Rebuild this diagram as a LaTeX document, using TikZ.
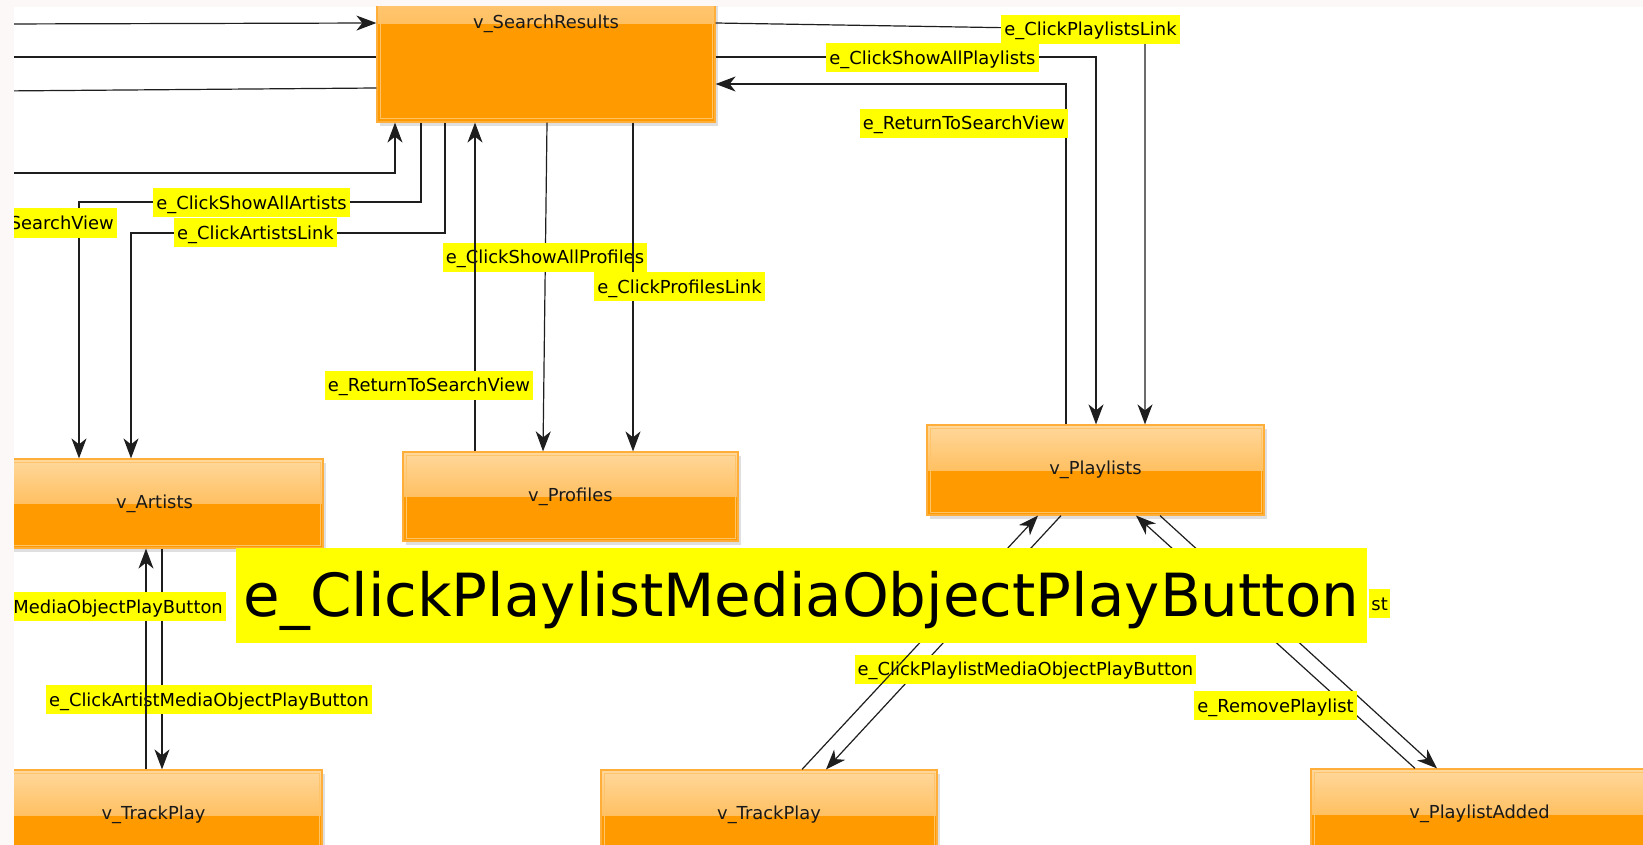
\documentclass[tikz,border=0pt]{standalone}
\usepackage{fontspec}
\setmainfont{DejaVu Sans}
\usetikzlibrary{arrows.meta,shadows}
\definecolor{orangeMain}{HTML}{FF9A00}
\definecolor{glossTop}{HTML}{FFD89C}
\definecolor{glossMid}{HTML}{FFA828}
\definecolor{boxBorder}{HTML}{FFAE3A}
\definecolor{innerLine}{HTML}{FFC46A}
\definecolor{pageBg}{HTML}{FCF8F8}
\definecolor{lbl}{HTML}{FFFF00}
\definecolor{edgeCol}{HTML}{1E1E1E}
\begin{document}
\begin{tikzpicture}[x=1pt,y=-1pt,
  vbox/.style={rectangle, draw=boxBorder, line width=1.2pt, fill=orangeMain, inner sep=0pt,
    font=\fontsize{17.9}{20}\selectfont, text=black!90,
    drop shadow={opacity=0.25, shadow xshift=2.5pt, shadow yshift=-4pt},
    path picture={
      \fill[top color=glossTop, bottom color=glossMid] (path picture bounding box.north west) rectangle (path picture bounding box.east);
      \draw[innerLine, line width=1pt] ([shift={(3pt,-3pt)}]path picture bounding box.north west) rectangle ([shift={(-3pt,3pt)}]path picture bounding box.south east);
    }},
  elbl/.style={fill=lbl, inner xsep=3pt, inner ysep=0pt, minimum height=29pt, text height=16pt, text depth=3pt,
    font=\fontsize{17.9}{20}\selectfont},
  edge/.style={draw=edgeCol, line width=1.2pt},
  arr/.style={edge, -{Stealth[length=20pt,width=15pt,inset=6pt]}}
]
\useasboundingbox (0,0) rectangle (1643,845);
\fill[pageBg] (0,0) rectangle (1643,845);
\fill[white] (14,7) rectangle (1643,845);
\begin{scope}
\clip (14,7) rectangle (1643,845);
% vertices
\node[vbox, minimum width=338pt, minimum height=196pt] (search) at (546,24) {v\_SearchResults};
\node[vbox, minimum width=337pt, minimum height=89pt] (artists) at (154.5,503.5) {v\_Artists};
\node[vbox, minimum width=335pt, minimum height=89pt] (profiles) at (570.5,496.5) {v\_Profiles};
\node[vbox, minimum width=337pt, minimum height=90pt] (playlists) at (1095.5,470) {v\_Playlists};
\node[vbox, minimum width=337pt, minimum height=90pt] (trackL) at (153.5,815) {v\_TrackPlay};
\node[vbox, minimum width=336pt, minimum height=90pt] (trackM) at (769,815) {v\_TrackPlay};
\node[vbox, minimum width=337pt, minimum height=90pt] (added) at (1479.5,814) {v\_PlaylistAdded};
% free ends on the left
\coordinate (inA) at (0,24);
\coordinate (inB) at (0,57);
\coordinate (inC) at (0,91);
\coordinate (inD) at (0,173);
% incoming from left
\draw[arr] (inA) -- (search.west |- 0,23);
\draw[edge] (inB) -- (search.west |- 0,57);
\draw[edge] (inC) -- (search.west |- 0,88);
\draw[arr] (inD) -- (395,173) -- (395,0 |- search.south);
% search -> artists
\draw[arr] (421,0 |- search.south) -- (421,202) -- (79,202) -- (79,0 |- artists.north);
\node[elbl] (lShowAllArtists) at (251.5,202.5) {e\_ClickShowAllArtists};
\draw[arr] (445,0 |- search.south) -- (445,233) -- (131,233) -- (131,0 |- artists.north);
\node[elbl] (lArtistsLink) at (255.5,232.5) {e\_ClickArtistsLink};
\node[elbl, anchor=east] (lSearchView) at (117,223) {SearchView};
% search <-> profiles
\draw[arr] (547,0 |- search.south) -- (543,0 |- profiles.north);
\node[elbl] (lShowAllProfiles) at (545,257) {e\_ClickShowAllProfiles};
\draw[arr] (475,0 |- profiles.north) -- (475,0 |- search.south);
\node[elbl] (lReturnProfiles) at (429,385) {e\_ReturnToSearchView};
\draw[arr] (633,0 |- search.south) -- (633,0 |- profiles.north);
\node[elbl] (lProfilesLink) at (679.5,286.5) {e\_ClickProfilesLink};
% search <-> playlists
\draw[arr] (search.east |- 0,23) -- (1145,30) -- (1145,0 |- playlists.north);
\node[elbl] (lPlaylistsLink) at (1090.5,29.5) {e\_ClickPlaylistsLink};
\draw[arr] (search.east |- 0,57) -- (1096,57) -- (1096,0 |- playlists.north);
\node[elbl] (lShowAllPlaylists) at (932.5,58) {e\_ClickShowAllPlaylists};
\draw[arr] (1066,0 |- playlists.north) -- (1066,84) -- (search.east |- 0,84);
\node[elbl] (lReturnPlaylists) at (964,123.5) {e\_ReturnToSearchView};
% artists <-> trackplay
\draw[arr] (162,0 |- artists.south) -- (162,0 |- trackL.north);
\node[elbl] (lArtistMOPB) at (209,699.5) {e\_ClickArtistMediaObjectPlayButton};
\draw[arr] (146,0 |- trackL.north) -- (146,0 |- artists.south);
\node[elbl, anchor=east] (lMOPB) at (226,606.5) {MediaObjectPlayButton};
% playlists <-> trackplay
\draw[arr] (1061,0 |- playlists.south) -- (826,0 |- trackM.north);
\node[elbl] (lPlaylistMOPB) at (1025.5,669) {e\_ClickPlaylistMediaObjectPlayButton};
\draw[arr] (802,0 |- trackM.north) -- (1038,0 |- playlists.south);
% playlists <-> playlist added
\draw[arr] (1160,0 |- playlists.south) -- (1437,0 |- added.north);
\draw[arr] (1415,0 |- added.north) -- (1136,0 |- playlists.south);
\node[elbl] (lRemovePlaylist) at (1275.5,705.5) {e\_RemovePlaylist};
\node[elbl, anchor=east, inner xsep=2pt] (lSt) at (1390,603.5) {st};
% magnified label
\node[fill=lbl, inner xsep=8pt, inner ysep=0pt, minimum height=95pt, text height=50pt, text depth=8pt,
  font=\fontsize{59.5}{66}\selectfont] (lHuge) at (801.5,595.5) {e\_ClickPlaylistMediaObjectPlayButton};
\end{scope}
\end{tikzpicture}
\end{document}
